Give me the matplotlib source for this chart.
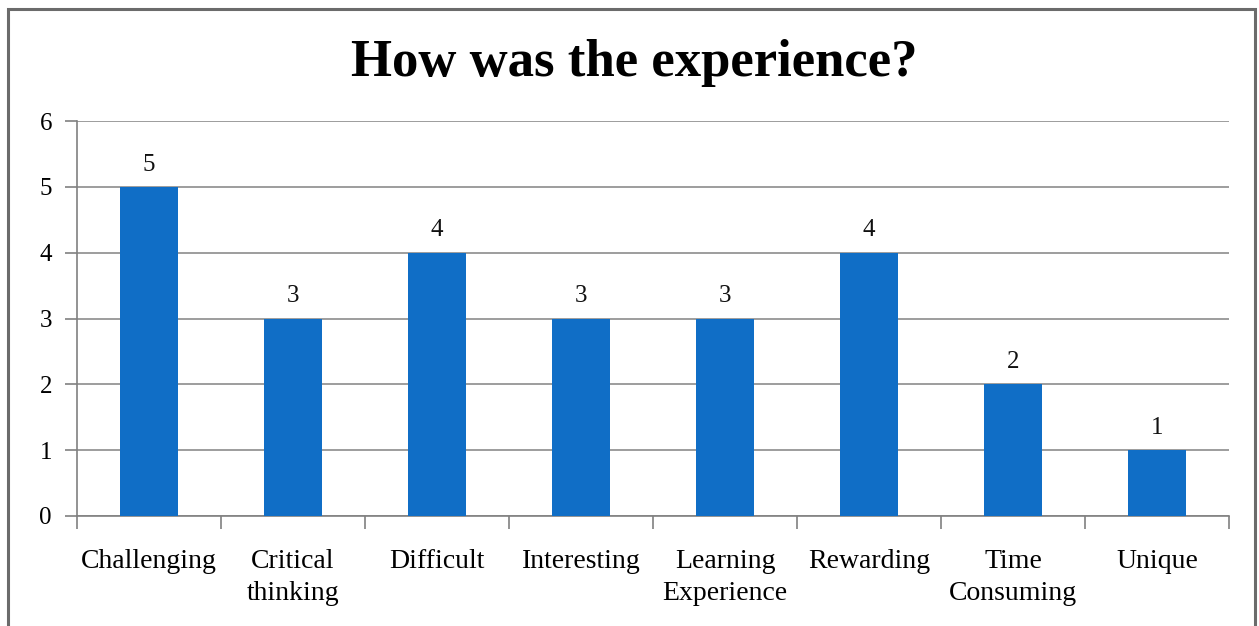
import matplotlib
matplotlib.use("Agg")
import matplotlib.pyplot as plt
import numpy as np
from matplotlib.patches import Rectangle

categories = ["Challenging", "Critical\nthinking", "Difficult", "Interesting",
              "Learning\nExperience", "Rewarding", "Time\nConsuming", "Unique"]
values = [5, 3, 4, 3, 3, 4, 2, 1]
yticks = [0, 1, 2, 3, 4, 5, 6]

plt.rcParams['font.family'] = ['Liberation Serif', 'DejaVu Serif']

fig = plt.figure(figsize=(12.59, 6.26), dpi=100)
fig.patches.append(Rectangle((8/1259, -0.05), (1255-8)/1259, 1.05 - 9/626,
                             transform=fig.transFigure, fill=False,
                             edgecolor='#6b6b6b', linewidth=2.2))
ax = fig.add_axes([77/1259, 1-516/626, (1229-77)/1259, (516-121)/626])

x = np.arange(len(categories))
bars = ax.bar(x, values, width=0.4, color='#106EC6', zorder=3)
for xi, v in zip(x, values):
    ax.text(xi, v + 0.17, str(v), ha='center', va='bottom', fontsize=18, color='#111111')

ax.set_xlim(-0.5, len(categories) - 0.5)
ax.set_ylim(0, 6)
ax.set_yticks(yticks)
ax.set_yticklabels([str(t) for t in yticks], fontsize=18)
ax.set_xticks(x)
ax.set_xticklabels(categories, fontsize=20, linespacing=1.35)
ax.set_xticks(np.arange(-0.5, len(categories), 1.0), minor=True)
ax.tick_params(axis='x', which='major', length=0, pad=24)
ax.tick_params(axis='x', which='minor', length=9, color='#808080', width=1.2)
ax.tick_params(axis='y', length=9, color='#808080', width=1.2, pad=9)
ax.grid(axis='y', color='#8c8c8c', linewidth=1.2, zorder=0)
for s in ['top', 'right']:
    ax.spines[s].set_visible(False)
for s in ['left', 'bottom']:
    ax.spines[s].set_color('#808080')
    ax.spines[s].set_linewidth(1.2)

fig.text(634/1259, 1-63/626, "How was the experience?", ha='center', va='center',
         fontsize=38, fontweight='bold', color='#000000')

fig.savefig("out.png", dpi=100)
